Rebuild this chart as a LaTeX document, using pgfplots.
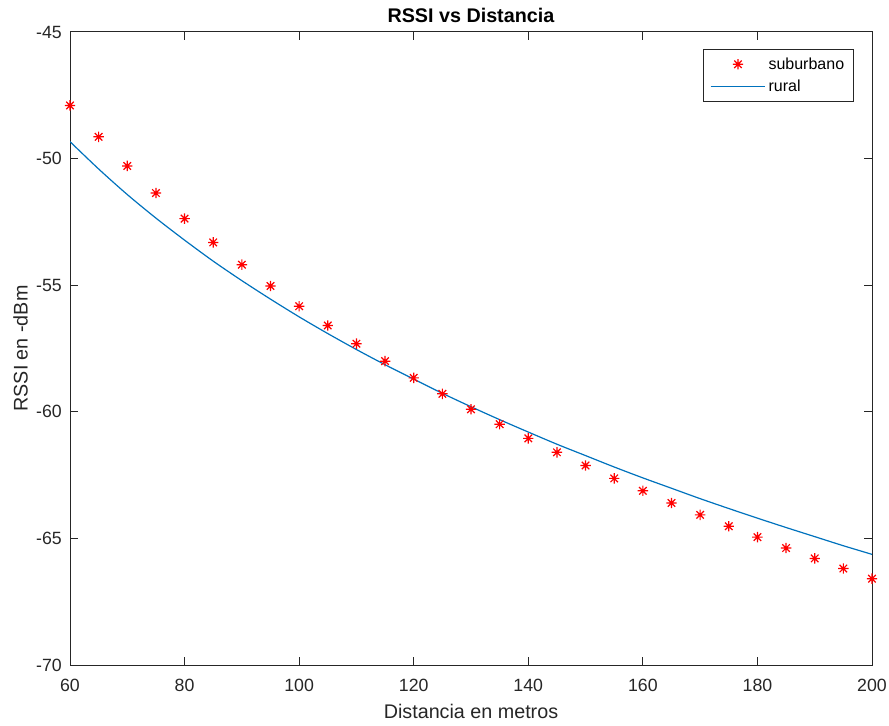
\documentclass[border=0pt]{standalone}
\usepackage{fontspec}
\setmainfont{Liberation Sans}
\usepackage{pgfplots}
\pgfplotsset{compat=1.18}
\definecolor{mblue}{rgb}{0,0.447,0.741}
\definecolor{axgray}{rgb}{0.15,0.15,0.15}
\pgfdeclareplotmark{mstar}{%
 \pgfpathmoveto{\pgfqpoint{0pt}{\pgfplotmarksize}}\pgfpathlineto{\pgfqpoint{0pt}{-\pgfplotmarksize}}%
 \pgfpathmoveto{\pgfqpoint{\pgfplotmarksize}{0pt}}\pgfpathlineto{\pgfqpoint{-\pgfplotmarksize}{0pt}}%
 \pgfpathmoveto{\pgfqpoint{0.72\pgfplotmarksize}{0.72\pgfplotmarksize}}\pgfpathlineto{\pgfqpoint{-0.72\pgfplotmarksize}{-0.72\pgfplotmarksize}}%
 \pgfpathmoveto{\pgfqpoint{-0.72\pgfplotmarksize}{0.72\pgfplotmarksize}}\pgfpathlineto{\pgfqpoint{0.72\pgfplotmarksize}{-0.72\pgfplotmarksize}}%
 \pgfusepathqstroke}
\pgfplotstableread{
d rssi
60 -47.90
65 -49.14
70 -50.29
75 -51.36
80 -52.37
85 -53.31
90 -54.19
95 -55.03
100 -55.83
105 -56.59
110 -57.31
115 -58.00
120 -58.66
125 -59.29
130 -59.90
135 -60.49
140 -61.05
145 -61.60
150 -62.12
155 -62.63
160 -63.12
165 -63.60
170 -64.07
175 -64.52
180 -64.95
185 -65.38
190 -65.79
195 -66.19
200 -66.59
}\suburbano
\pgfplotstableread{
d rssi
60 -49.33
65 -50.41
70 -51.42
75 -52.35
80 -53.22
85 -54.05
90 -54.82
95 -55.55
100 -56.25
105 -56.91
110 -57.54
115 -58.14
120 -58.71
125 -59.27
130 -59.80
135 -60.31
140 -60.80
145 -61.28
150 -61.73
155 -62.18
160 -62.61
165 -63.02
170 -63.43
175 -63.82
180 -64.20
185 -64.57
190 -64.93
195 -65.29
200 -65.63
}\rural
\begin{document}
\begin{tikzpicture}
\begin{axis}[
  at={(0pt,0pt)}, anchor=south west,
  scale only axis, width=601.5pt, height=474.75pt,
  xmin=60, xmax=200, ymin=-70, ymax=-45,
  xtick={60,80,...,200}, ytick={-70,-65,...,-45},
  tick align=inside, major tick length=6pt,
  axis line style={axgray, line width=0.75pt},
  every tick/.style={axgray, line width=0.75pt},
  /pgf/number format/assume math mode=true,
  ticklabel style={font=\fontsize{13.3pt}{15pt}\selectfont, text=axgray, inner sep=0pt},
  xticklabel style={anchor=base, yshift=-19.9pt},
  yticklabel style={anchor=east, xshift=-6pt},
  every axis title shift=0pt,
  title={\textbf{RSSI vs Distancia}},
  title style={font=\fontsize{14.8pt}{17pt}\selectfont, at={(axis description cs:0.5,1.0269)}, anchor=center, inner sep=0pt},
  xlabel={Distancia en metros},
  xlabel style={font=\fontsize{14.8pt}{17pt}\selectfont, text=axgray, at={(axis description cs:0.5,-0.0737)}, anchor=center, inner sep=0pt},
  ylabel={RSSI en -dBm},
  ylabel style={font=\fontsize{14.8pt}{17pt}\selectfont, text=axgray, at={(axis description cs:-0.0617,0.5)}, anchor=center, inner sep=0pt},
  legend style={at={(axis description cs:1,1)}, anchor=north east, xshift=-13.5pt, yshift=-12.75pt,
     font=\fontsize{12pt}{14pt}\selectfont, draw=axgray, line width=0.75pt, inner xsep=5pt, inner ysep=4pt, row sep=2.5pt},
  legend cell align=left,
]
\addplot[only marks, mark=mstar, mark size=3.9pt, color=red, line width=0.9pt,
  legend image code/.code={\draw[mark repeat=2,mark phase=2] plot coordinates {(0pt,0pt) (20.5pt,0pt) (41pt,0pt)};}]
  table[x=d, y=rssi] {\suburbano};
\addlegendentry{suburbano}
\addplot[color=mblue, line width=0.9pt, no marks, smooth,
  legend image code/.code={\draw[mark repeat=2,mark phase=2] plot coordinates {(0pt,0pt) (20.5pt,0pt) (41pt,0pt)};}]
  table[x=d, y=rssi] {\rural};
\addlegendentry{rural}
\end{axis}
\pgfresetboundingbox
\path[use as bounding box] (-52.5pt,-45pt) rectangle (614.25pt,498.75pt);
\end{tikzpicture}
\end{document}
